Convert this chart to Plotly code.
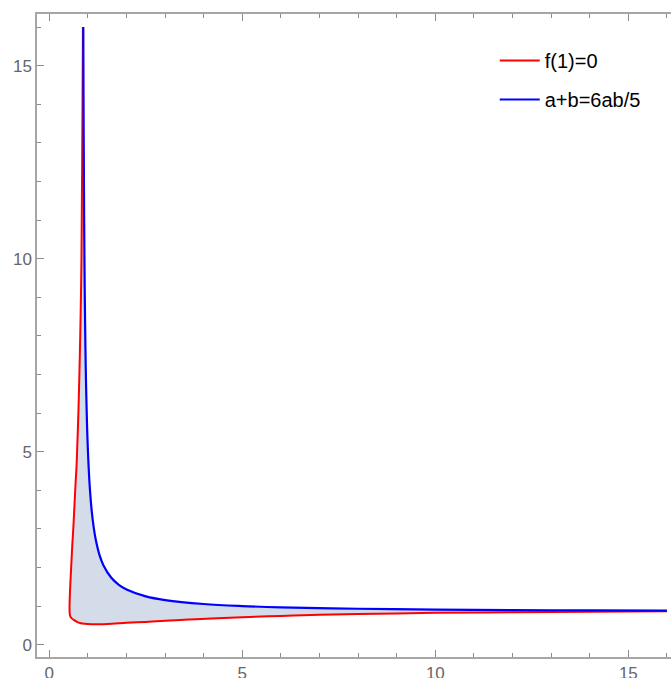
import plotly.graph_objects as go

# Red curve f(1)=0, traced from the top, round the corner, to the right
red_a = [0.870, 0.862, 0.853, 0.843, 0.832, 0.818, 0.800, 0.778, 0.752, 0.722, 0.703, 0.680,
         0.650, 0.620, 0.590, 0.565, 0.540, 0.528, 0.523, 0.525, 0.532, 0.548, 0.580, 0.640,
         0.700, 0.760, 0.850, 1.000, 1.200, 1.500, 2.000, 2.500, 3.000, 3.600, 4.200, 5.000,
         6.000, 7.000, 8.500, 10.00, 12.00, 14.00, 16.00]
red_b = [16.00, 14.50, 13.00, 11.50, 10.00, 9.00, 8.00, 7.00, 6.00, 5.10, 4.60, 4.20,
         3.60, 3.00, 2.50, 2.00, 1.50, 1.20, 1.00, 0.86, 0.77, 0.72, 0.68, 0.635,
         0.600, 0.570, 0.550, 0.535, 0.530, 0.538, 0.565, 0.590, 0.620, 0.650, 0.680, 0.710,
         0.745, 0.775, 0.800, 0.825, 0.840, 0.855, 0.868]

# Blue curve a+b=6ab/5
blue_a = [0.879, 0.885, 0.890, 0.900, 0.910, 0.920, 0.935, 0.950, 0.975, 1.000, 1.050, 1.100,
          1.150, 1.200, 1.300, 1.400, 1.600, 1.800, 2.000, 2.500, 3.000, 4.000, 5.000, 6.000,
          8.000, 10.00, 12.00, 14.00, 16.00]
blue_b = [16.00, 14.27, 13.09, 11.25, 9.86, 8.85, 7.68, 6.79, 5.74, 5.00, 4.04, 3.44,
          3.03, 2.73, 2.32, 2.06, 1.74, 1.55, 1.43, 1.25, 1.154, 1.053, 1.000, 0.968,
          0.930, 0.909, 0.896, 0.886, 0.879]

x_ticks = [0, 5, 10, 15]
y_ticks = [0, 5, 10, 15]
legend_names = ["f(1)=0", "a+b=6ab/5"]

RED = "#ff0000"
BLUE = "#0000ff"
FILL = "#d4dcea"
FRAME = "#a6a6a6"
TICKC = "#8c8c8c"
FONT = "Liberation Sans, Arial, sans-serif"

fig = go.Figure()
# shaded region between the two curves
fig.add_trace(go.Scatter(x=blue_a + red_a[::-1], y=blue_b + red_b[::-1], mode="lines",
                         line=dict(width=0, color=FILL, shape="spline"),
                         fill="toself", fillcolor=FILL,
                         showlegend=False, hoverinfo="skip"))
fig.add_trace(go.Scatter(x=red_a, y=red_b, mode="lines", name=legend_names[0],
                         line=dict(color=RED, width=2, shape="spline"),
                         legendgroup="g1", showlegend=True, hoverinfo="skip"))
fig.add_trace(go.Scatter(x=blue_a, y=blue_b, mode="lines", name=legend_names[1],
                         line=dict(color=BLUE, width=2.2, shape="spline"),
                         legendgroup="g2", showlegend=True, hoverinfo="skip"))

axis_common = dict(
    showgrid=False, zeroline=False, automargin=False,
    showline=True, linecolor=FRAME, linewidth=1.5,
    ticks="inside", ticklen=7, tickwidth=1, tickcolor=TICKC,
    tickfont=dict(family=FONT, size=17, color="#666666"),
    minor=dict(dtick=1, ticklen=4, tickwidth=1, tickcolor=TICKC, ticks="inside"),
)

fig.update_xaxes(range=[-0.32, 16.105], tickvals=x_ticks, mirror="ticks", **axis_common)
fig.update_yaxes(range=[-0.32, 16.34], tickvals=y_ticks, mirror=False, **axis_common)

fig.update_layout(
    width=671, height=678,
    margin=dict(l=37, r=0, t=14, b=21),
    plot_bgcolor="white", paper_bgcolor="white",
    font=dict(family=FONT),
    showlegend=True,
    legend=dict(x=0.722, y=0.958, xanchor="left", yanchor="top",
                font=dict(family=FONT, size=20, color="black"),
                bgcolor="rgba(0,0,0,0)", tracegroupgap=10, itemwidth=40,
                traceorder="grouped"),
)

fig.write_html("out.html", config={"displayModeBar": False},
               post_script="document.body.style.margin='0';document.body.style.overflow='hidden';")
